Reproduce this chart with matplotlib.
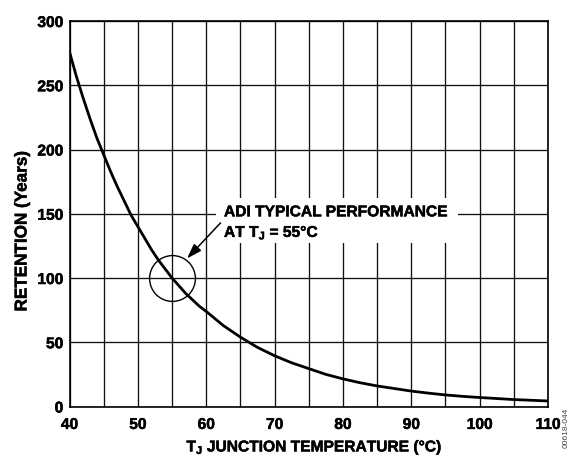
import matplotlib
matplotlib.use("Agg")
import matplotlib.pyplot as plt
from matplotlib.patches import Rectangle
import matplotlib.patheffects as pe

plt.rcParams['font.family'] = ['Liberation Sans', 'DejaVu Sans']
plt.rcParams['font.weight'] = 'bold'
plt.rcParams['mathtext.fontset'] = 'custom'
plt.rcParams['mathtext.rm'] = 'Liberation Sans:bold'
plt.rcParams['mathtext.bf'] = 'Liberation Sans:bold'
plt.rcParams['mathtext.it'] = 'Liberation Sans:bold'

# Data
temperature = [40, 41, 42, 43, 44, 45, 46, 47, 48, 49, 50, 51, 52, 53, 54, 55,
               56, 57, 58, 59, 60, 62.5, 65, 67.5, 70, 72.5, 75, 77.5, 80, 82.5,
               85, 87.5, 90, 92.5, 95, 97.5, 100, 105, 110]
retention = [276, 257, 240, 224, 209, 196, 183, 171, 160, 149, 140, 131, 122, 114,
             107, 100, 94, 88, 83, 78, 74, 63, 54, 46, 39.5, 34, 29.5, 25, 21.5,
             18.5, 16, 14, 12, 10.4, 9, 7.9, 7, 5.4, 4.3]

x_ticks = [40, 50, 60, 70, 80, 90, 100, 110]
y_ticks = [0, 50, 100, 150, 200, 250, 300]
highlight_t = 55
highlight_r = 100

bold_fx = [pe.withStroke(linewidth=0.35, foreground='black')]

fig = plt.figure(figsize=(5.74, 4.55), dpi=100)
ax = fig.add_axes([69.5 / 574, 1 - 406.5 / 455, (548 - 69.5) / 574, (406.5 - 21) / 455])

ax.set_xlim(40, 110)
ax.set_ylim(0, 300)
ax.set_xticks(x_ticks)
ax.set_yticks(y_ticks)
ax.set_xticks(range(45, 110, 10), minor=True)
ax.tick_params(which='both', length=0, labelsize=11.2)
ax.tick_params(axis='x', pad=7.5)
ax.tick_params(axis='y', pad=4.5)
for lab in ax.get_xticklabels() + ax.get_yticklabels():
    lab.set_fontweight('bold')
    lab.set_path_effects(bold_fx)

ax.set_axisbelow(True)
ax.grid(True, which='both', axis='x', color='#111111', lw=0.95)
ax.grid(True, which='major', axis='y', color='#111111', lw=0.95)
for s in ax.spines.values():
    s.set_linewidth(1.2)

# white box behind annotation text
ax.add_patch(Rectangle((61.5, 127), 35.3, 35, facecolor='white', edgecolor='none', zorder=1.5))

ax.plot(temperature, retention, color='black', lw=2.0, zorder=3,
        solid_joinstyle='round')
ax.plot([highlight_t], [highlight_r], marker='o', markersize=33, markerfacecolor='none',
        markeredgecolor='black', markeredgewidth=1.0, zorder=4)

ax.text(62.6, 151.5, 'ADI TYPICAL PERFORMANCE', fontsize=11.2, fontweight='bold',
        ha='left', va='center', zorder=5, path_effects=bold_fx)
ax.text(62.6, 136, r'AT T$_{\mathrm{J}}$ = 55°C', fontsize=11.2, fontweight='bold',
        ha='left', va='center', zorder=5, path_effects=bold_fx)
ax.annotate('', xy=(57.2, 115.2), xytext=(62.1, 142.9),
            arrowprops=dict(arrowstyle='-|>,head_length=0.6,head_width=0.2',
                            mutation_scale=15, lw=1.1, color='black',
                            shrinkA=0, shrinkB=0), zorder=5)

fig.text(314 / 574, 1 - 446.5 / 455, r'T$_{\mathrm{J}}$ JUNCTION TEMPERATURE (°C)',
         fontsize=11.2, fontweight='bold', ha='center', va='center', path_effects=bold_fx)
fig.text(22 / 574, 1 - 231 / 455, 'RETENTION (Years)', rotation=90,
         fontsize=12.3, fontweight='bold', ha='center', va='center', path_effects=bold_fx)
fig.text(566 / 574, 1 - 428 / 455, '00618-044', rotation=90, fontsize=6,
         fontweight='normal', color='#444444', ha='center', va='center')

fig.savefig('out.png', dpi=100)
